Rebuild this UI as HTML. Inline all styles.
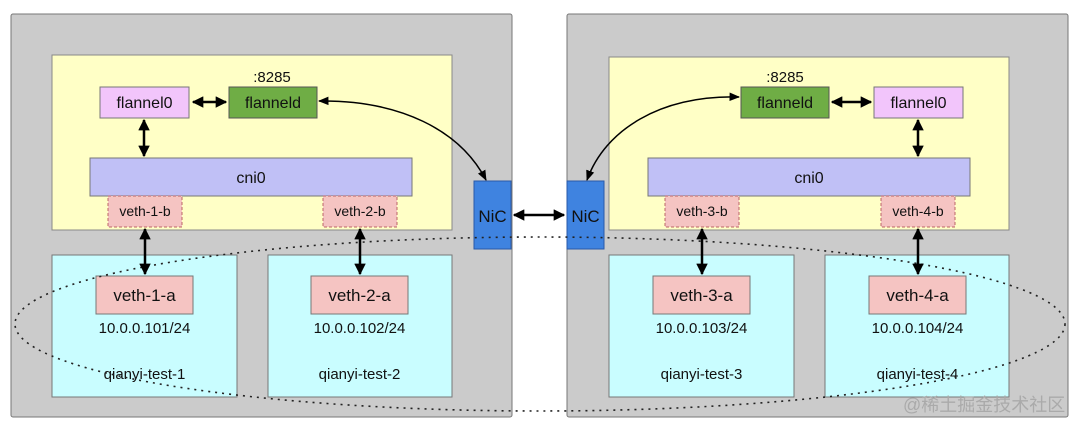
<!DOCTYPE html>
<html><head><meta charset="utf-8"><style>
html,body{margin:0;padding:0;background:#fff;}
svg{display:block}
text{font-family:"Liberation Sans",Arial,sans-serif;fill:#111;}
</style></head><body>
<svg width="1080" height="427" viewBox="0 0 1080 427" xmlns="http://www.w3.org/2000/svg">
<defs>
<marker id="a" viewBox="0 0 10 10" refX="9" refY="5" markerWidth="4.6" markerHeight="4.6" orient="auto-start-reverse"><path d="M0,0 L10,5 L0,10 z" fill="#000"/></marker>
<marker id="s" viewBox="0 0 10 10" refX="9" refY="5" markerWidth="7" markerHeight="7" orient="auto-start-reverse"><path d="M0,1 L10,5 L0,9 z" fill="#000"/></marker>
</defs>
<rect x="11" y="14" width="501" height="403" fill="#cbcbcb" stroke="#777" rx="2"/>
<rect x="567" y="14" width="501" height="403" fill="#cbcbcb" stroke="#777" rx="2"/>
<rect x="52" y="55" width="400" height="175" fill="#ffffc6" stroke="#888"/>
<rect x="609" y="57" width="400" height="173" fill="#ffffc6" stroke="#888"/>
<rect x="52" y="255" width="185" height="142" fill="#c9fdff" stroke="#777"/>
<rect x="268" y="255" width="184" height="142" fill="#c9fdff" stroke="#777"/>
<rect x="609" y="255" width="185" height="142" fill="#c9fdff" stroke="#777"/>
<rect x="825" y="255" width="184" height="142" fill="#c9fdff" stroke="#777"/>

<g font-size="16">
<text x="272" y="82" text-anchor="middle" font-size="15">:8285</text>
<rect x="100" y="87" width="89" height="31" fill="#f2c5fb" stroke="#777"/>
<text x="144.5" y="108" text-anchor="middle">flannel0</text>
<rect x="229" y="87" width="88" height="31" fill="#6fad45" stroke="#555"/>
<text x="273" y="108" text-anchor="middle">flanneld</text>
<rect x="90" y="158" width="322" height="38" fill="#c0c0f6" stroke="#777"/>
<text x="251" y="183" text-anchor="middle">cni0</text>
<rect x="108" y="196" width="74" height="31" fill="#f5c4c2" stroke="#b66" stroke-dasharray="3,2"/>
<text x="145" y="216" text-anchor="middle" font-size="14">veth-1-b</text>
<rect x="323" y="196" width="74" height="31" fill="#f5c4c2" stroke="#b66" stroke-dasharray="3,2"/>
<text x="360" y="216" text-anchor="middle" font-size="14">veth-2-b</text>
<text x="785" y="82" text-anchor="middle" font-size="15">:8285</text>
<rect x="741" y="87" width="88" height="31" fill="#6fad45" stroke="#555"/>
<text x="785" y="108" text-anchor="middle">flanneld</text>
<rect x="874" y="87" width="89" height="31" fill="#f2c5fb" stroke="#777"/>
<text x="918.5" y="108" text-anchor="middle">flannel0</text>
<rect x="648" y="158" width="322" height="38" fill="#c0c0f6" stroke="#777"/>
<text x="809" y="183" text-anchor="middle">cni0</text>
<rect x="665" y="196" width="74" height="31" fill="#f5c4c2" stroke="#b66" stroke-dasharray="3,2"/>
<text x="702" y="216" text-anchor="middle" font-size="14">veth-3-b</text>
<rect x="881" y="196" width="74" height="31" fill="#f5c4c2" stroke="#b66" stroke-dasharray="3,2"/>
<text x="918" y="216" text-anchor="middle" font-size="14">veth-4-b</text>

<rect x="96" y="276" width="97" height="38" fill="#f5c4c2" stroke="#777"/>
<text x="144.5" y="301" text-anchor="middle" font-size="17">veth-1-a</text>
<rect x="311" y="276" width="97" height="38" fill="#f5c4c2" stroke="#777"/>
<text x="359.5" y="301" text-anchor="middle" font-size="17">veth-2-a</text>
<rect x="653" y="276" width="97" height="38" fill="#f5c4c2" stroke="#777"/>
<text x="701.5" y="301" text-anchor="middle" font-size="17">veth-3-a</text>
<rect x="869" y="276" width="97" height="38" fill="#f5c4c2" stroke="#777"/>
<text x="917.5" y="301" text-anchor="middle" font-size="17">veth-4-a</text>
<text x="144.5" y="333" text-anchor="middle" font-size="15">10.0.0.101/24</text>
<text x="359.5" y="333" text-anchor="middle" font-size="15">10.0.0.102/24</text>
<text x="701.5" y="333" text-anchor="middle" font-size="15">10.0.0.103/24</text>
<text x="917.5" y="333" text-anchor="middle" font-size="15">10.0.0.104/24</text>
<text x="144.5" y="379" text-anchor="middle" font-size="15">qianyi-test-1</text>
<text x="359.5" y="379" text-anchor="middle" font-size="15">qianyi-test-2</text>
<text x="701.5" y="379" text-anchor="middle" font-size="15">qianyi-test-3</text>
<text x="917.5" y="379" text-anchor="middle" font-size="15">qianyi-test-4</text>
</g>

<rect x="474" y="181" width="37" height="68" fill="#3f83e0" stroke="#2a5aa8"/>
<text x="492.5" y="222" text-anchor="middle" font-size="17">NiC</text>
<rect x="567" y="181" width="37" height="68" fill="#3f83e0" stroke="#2a5aa8"/>
<text x="585.5" y="222" text-anchor="middle" font-size="17">NiC</text>

<ellipse cx="540" cy="324" rx="525" ry="87" fill="none" stroke="#222" stroke-width="1.6" stroke-dasharray="2,5"/>

<g stroke="#000" stroke-width="2.5" fill="none">
<line x1="193" y1="102" x2="226" y2="102" marker-start="url(#a)" marker-end="url(#a)"/>
<line x1="832" y1="102" x2="871" y2="102" marker-start="url(#a)" marker-end="url(#a)"/>
<line x1="144" y1="120" x2="144" y2="156" marker-start="url(#a)" marker-end="url(#a)"/>
<line x1="918" y1="120" x2="918" y2="156" marker-start="url(#a)" marker-end="url(#a)"/>
<line x1="145" y1="229" x2="145" y2="274" marker-start="url(#a)" marker-end="url(#a)"/>
<line x1="360" y1="229" x2="360" y2="274" marker-start="url(#a)" marker-end="url(#a)"/>
<line x1="702" y1="229" x2="702" y2="274" marker-start="url(#a)" marker-end="url(#a)"/>
<line x1="918" y1="229" x2="918" y2="274" marker-start="url(#a)" marker-end="url(#a)"/>
<line x1="514" y1="215" x2="564" y2="215" marker-start="url(#a)" marker-end="url(#a)"/>
</g>
<g stroke="#000" stroke-width="1.5" fill="none">
<path d="M319,101 C400,100 460,130 486,180" marker-start="url(#s)" marker-end="url(#s)"/>
<path d="M739,97 C660,95 605,130 587,180" marker-start="url(#s)" marker-end="url(#s)"/>
</g>

<text x="903" y="411" font-size="18" style="fill:#aaa" font-family="Liberation Sans, 'Noto Sans CJK SC', sans-serif">@稀土掘金技术社区</text>
</svg>
</body></html>
